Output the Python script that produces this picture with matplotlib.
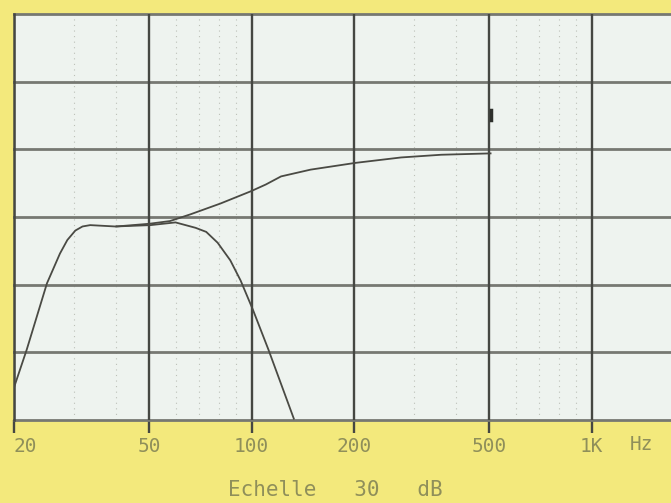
import matplotlib
matplotlib.use("Agg")
import matplotlib.pyplot as plt
import matplotlib.transforms as mtransforms

# frequency (Hz) and level (dB above the bottom line, 5 dB per division)
low_freq = [20.0, 21.8, 25.0, 27.3, 28.7, 30.3, 31.8, 33.5, 39.7, 50.4, 59.7, 68.4, 73.5, 79.4,
            86.5, 92.8, 101, 112, 133]
low_level = [2.4, 5.2, 10.1, 12.3, 13.3, 14.0, 14.3, 14.4, 14.3, 14.4, 14.6, 14.2, 13.9, 13.1,
             11.8, 10.3, 8.1, 5.2, 0.1]

high_freq = [40, 50, 57.5, 66.1, 81.0, 99.4, 110, 122, 149, 202, 275, 361, 504]
high_level = [14.3, 14.5, 14.7, 15.2, 16.0, 16.9, 17.4, 18.0, 18.5, 19.0, 19.4, 19.6, 19.7]

tick_freqs = [20, 50, 100, 200, 500, 1000]
tick_labels = ["20", "50", "100", "200", "500", "1K"]
minor_freqs = [30, 40, 60, 70, 80, 90, 300, 400, 600, 700, 800, 900]
level_lines = [0, 5, 10, 15, 20, 25, 30]

yellow = "#f3e97c"
paper = "#eef3ef"
ink = "#4a4a44"
label_col = "#8f8f5a"

fig = plt.figure(figsize=(6.71, 5.03), dpi=100, facecolor=yellow)
ax = fig.add_axes([14 / 671, 83 / 503, 657 / 671, 406 / 503], facecolor=paper)
ax.set_xscale("log")
ax.set_xlim(20, 1710)
ax.set_ylim(0, 30)

# faint dotted minor grid
for f in minor_freqs:
    ax.axvline(f, color="#bcc0b8", lw=0.8, ls=(0, (1, 4)), zorder=1)

# horizontal division lines
for lv in level_lines:
    ax.axhline(lv, color="#767872", lw=2.0, zorder=2, clip_on=False)

# vertical decade lines
for f in tick_freqs:
    ax.axvline(f, color="#454742", lw=1.7, zorder=2)

ax.plot(low_freq, low_level, color=ink, lw=1.3, zorder=3)
ax.plot(high_freq, high_level, color=ink, lw=1.3, zorder=3)
ax.plot([504, 504], [22.2, 22.9], color="#2e302c", lw=2.5, zorder=3)

for side in ["top", "right", "bottom"]:
    ax.spines[side].set_visible(False)
ax.spines["left"].set_color("#454742")
ax.spines["left"].set_linewidth(1.8)

ax.set_yticks([])
ax.minorticks_off()
ax.set_xticks(tick_freqs)
ax.set_xticklabels(tick_labels, fontfamily="DejaVu Sans Mono", fontsize=14, color=label_col)
ax.tick_params(axis="x", direction="out", length=9, width=1.7, color="#454742", pad=3)
ax.get_xticklabels()[0].set_ha("left")

trans = mtransforms.blended_transform_factory(ax.transData, fig.transFigure)
ax.text(1400, 1 - 445 / 503, "Hz", transform=trans, ha="center", va="center",
        fontfamily="DejaVu Sans Mono", fontsize=14, color=label_col)

fig.text(0.5, 1 - 490 / 503, "Echelle   30   dB", ha="center", va="center",
         fontfamily="DejaVu Sans Mono", fontsize=15, color=label_col)

fig.savefig("out.png", dpi=100, facecolor=yellow)
